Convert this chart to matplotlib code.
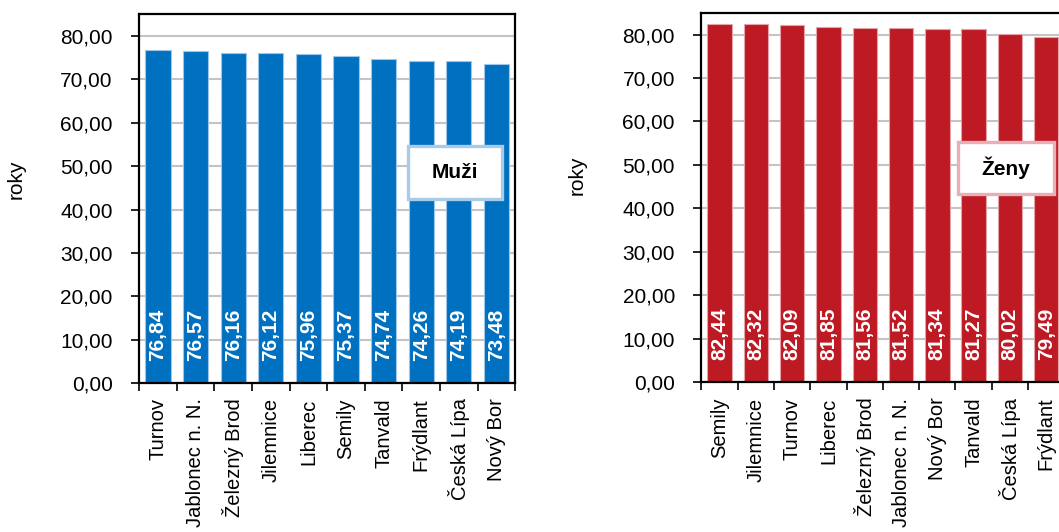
import matplotlib
matplotlib.use("Agg")
import matplotlib.pyplot as plt
from matplotlib.patches import Rectangle

plt.rcParams['font.family'] = ['Liberation Sans', 'DejaVu Sans']

# data
muzi_mesta = ['Turnov', 'Jablonec n. N.', 'Železný Brod', 'Jilemnice', 'Liberec',
              'Semily', 'Tanvald', 'Frýdlant', 'Česká Lípa', 'Nový Bor']
muzi_hodnoty = [76.84, 76.57, 76.16, 76.12, 75.96, 75.37, 74.74, 74.26, 74.19, 73.48]

zeny_mesta = ['Semily', 'Jilemnice', 'Turnov', 'Liberec', 'Železný Brod',
              'Jablonec n. N.', 'Nový Bor', 'Tanvald', 'Česká Lípa', 'Frýdlant']
zeny_hodnoty = [82.44, 82.32, 82.09, 81.85, 81.56, 81.52, 81.34, 81.27, 80.02, 79.49]

yticks = [0, 10, 20, 30, 40, 50, 60, 70, 80]

fig = plt.figure(figsize=(10.59, 5.32), dpi=100)
ax1 = fig.add_axes([0.1315, 0.280, 0.355, 0.693])
ax2 = fig.add_axes([0.6623, 0.2814, 0.3428, 0.6945])


def kresli(ax, mesta, hodnoty, barva, hrana, ramecek, nadpis, box):
    x = range(len(mesta))
    ax.bar(x, hodnoty, width=0.67, color=barva, edgecolor=hrana, linewidth=0.8, zorder=2)
    for i, v in enumerate(hodnoty):
        s = ('%.2f' % v).replace('.', ',')
        ax.text(i, 5.1, s, rotation=90, ha='center', va='bottom', color='white',
                fontsize=15, fontweight='bold', zorder=3)
    ax.set_xlim(-0.5, len(mesta) - 0.5)
    ax.set_ylim(0, 85)
    ax.set_yticks(yticks)
    ax.set_yticklabels([('%.2f' % t).replace('.', ',') for t in yticks], fontsize=15)
    ax.yaxis.grid(True, color='#c4c4c4', linewidth=1.5, zorder=0)
    ax.set_axisbelow(True)
    ax.tick_params(axis='y', length=6, width=1.2, pad=13, direction='out')
    # category ticks at the boundaries, labels in the middle
    ax.set_xticks([i - 0.5 for i in range(len(mesta) + 1)])
    ax.set_xticklabels([])
    ax.set_xticks(list(x), minor=True)
    ax.set_xticklabels(mesta, minor=True, rotation=90, fontsize=14.5)
    ax.tick_params(axis='x', which='major', length=6, width=1.2, direction='out')
    ax.tick_params(axis='x', which='minor', length=0, pad=11)
    for sp in ax.spines.values():
        sp.set_linewidth(1.6)
        sp.set_color('black')
    ax.set_ylabel('roky', fontsize=15, labelpad=0)
    bx, by, bw, bh = box
    ax.add_patch(Rectangle((bx, by), bw, bh, transform=ax.transAxes, facecolor='white',
                           edgecolor=ramecek, linewidth=2.4, zorder=4))
    ax.text(bx + bw / 2, by + bh / 2, nadpis, transform=ax.transAxes, ha='center',
            va='center', fontsize=15, fontweight='bold', zorder=5)


kresli(ax1, muzi_mesta, muzi_hodnoty, '#0070c0', '#9ec6ea', '#a8cce8', 'Muži',
       (0.716, 0.498, 0.248, 0.145))
kresli(ax2, zeny_mesta, zeny_hodnoty, '#be1a24', '#e3a3a8', '#e8b0b6', 'Ženy',
       (0.707, 0.510, 0.264, 0.141))

ax1.yaxis.set_label_coords(-0.301, 0.553)
ax2.yaxis.set_label_coords(-0.315, 0.561)

fig.savefig('out.png', dpi=100)
